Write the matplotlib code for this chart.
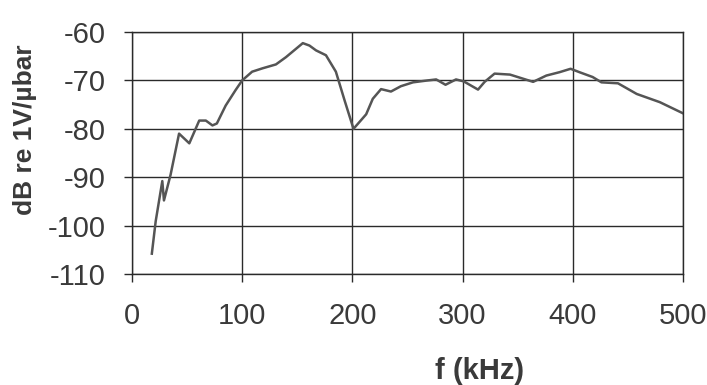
import numpy as np
import matplotlib
matplotlib.use('Agg')
import matplotlib.pyplot as plt

plt.rcParams['font.family'] = ['Liberation Sans Narrow', 'Liberation Sans', 'DejaVu Sans']
plt.rcParams['axes.unicode_minus'] = False

# Frequency response
freq_khz = [18, 21.5, 27.5, 29, 35, 42.7, 52, 61, 67, 73, 77, 85, 94, 100,
            109, 118.5, 130.6, 139.7, 155, 161, 167, 176, 185, 193, 201, 206,
            212.5, 218.5, 226, 235, 244, 255, 268.5, 276, 284.5, 294, 301,
            314, 320, 329, 343, 364, 376, 388, 398, 406, 418, 426, 441, 458,
            479, 500]
level_db = [-105.8, -99.1, -90.8, -94.8, -89.5, -81.0, -83.0, -78.3, -78.3,
            -79.3, -78.9, -75.2, -72.0, -70.0, -68.2, -67.5, -66.7, -65.2,
            -62.3, -62.8, -63.8, -64.8, -68.2, -74.2, -80.0, -78.7, -77.0,
            -73.8, -71.8, -72.3, -71.2, -70.4, -70.0, -69.8, -70.9, -69.8,
            -70.2, -71.9, -70.3, -68.6, -68.8, -70.3, -69.0, -68.3, -67.6,
            -68.3, -69.3, -70.4, -70.6, -72.8, -74.5, -76.8]

x_ticks = [0, 100, 200, 300, 400, 500]
y_ticks = [-110, -100, -90, -80, -70, -60]

fig = plt.figure(figsize=(7.07, 3.85), dpi=100)
ax = fig.add_axes([132 / 707, 1 - 274 / 385, (683 - 132) / 707, (274 - 32) / 385])

ax.plot(freq_khz, level_db, color='#555555', linewidth=1.8)

ax.set_xlim(0, 500)
ax.set_ylim(-110, -60)
ax.set_xticks(x_ticks)
ax.set_yticks(y_ticks)
ax.grid(True, color='#2a2a2a', linewidth=1.0)
ax.set_axisbelow(True)
for side in ax.spines.values():
    side.set_color('#2a2a2a')
    side.set_linewidth(1.0)

ax.tick_params(axis='both', direction='out', length=6, width=1.0,
               color='#2a2a2a', labelsize=21, labelcolor='#3a3a3a')
ax.tick_params(axis='x', pad=14)
ax.tick_params(axis='y', pad=13)

ax.set_ylabel('dB re 1V/µbar', fontsize=19, fontweight='bold', color='#3a3a3a',
              family=['Liberation Sans', 'DejaVu Sans'])
ax.yaxis.set_label_coords(-0.172, 0.595)
ax.set_xlabel('f (kHz)', fontsize=21, fontweight='bold', color='#3a3a3a')
ax.xaxis.set_label_coords(0.63, -0.345)

plt.savefig('out.png', dpi=100)
